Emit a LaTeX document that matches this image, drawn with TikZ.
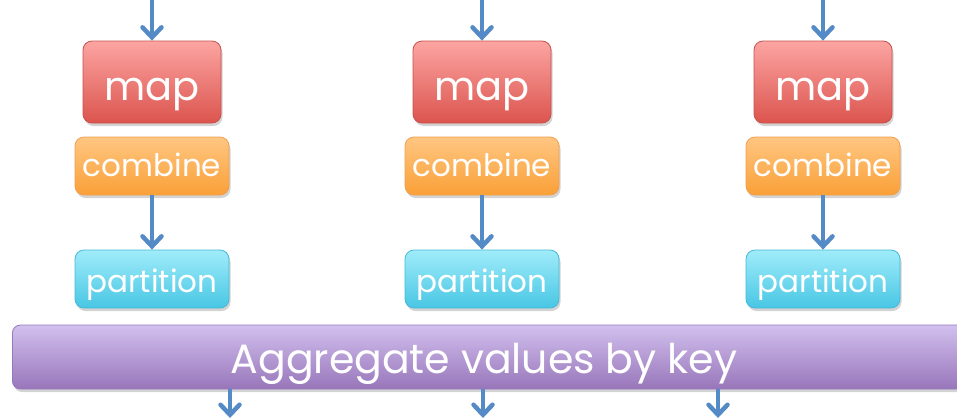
\documentclass[tikz,border=0pt]{standalone}
\usepackage{fontspec}
\setmainfont{Poppins}
\usetikzlibrary{arrows.meta,shadows,positioning}
\definecolor{arrowc}{RGB}{84,138,198}
\definecolor{mapT}{RGB}{252,165,162}
\definecolor{mapB}{RGB}{220,84,78}
\definecolor{mapD}{RGB}{200,80,75}
\definecolor{comT}{RGB}{255,198,130}
\definecolor{comB}{RGB}{250,160,55}
\definecolor{comD}{RGB}{240,160,80}
\definecolor{parT}{RGB}{160,236,250}
\definecolor{parB}{RGB}{72,198,228}
\definecolor{parD}{RGB}{70,185,215}
\definecolor{aggT}{RGB}{210,192,238}
\definecolor{aggB}{RGB}{152,118,186}
\definecolor{aggD}{RGB}{150,120,190}
\tikzset{
  box/.style={rounded corners=9pt, line width=0.8pt, inner sep=0pt,
     drop shadow={shadow xshift=1.5pt, shadow yshift=-3pt, opacity=0.35}},
  mapbox/.style={box, minimum width=138pt, minimum height=82pt, top color=mapT, bottom color=mapB, draw=mapD},
  combox/.style={box, minimum width=154pt, minimum height=58pt, top color=comT, bottom color=comB, draw=comD},
  parbox/.style={box, minimum width=154pt, minimum height=58pt, top color=parT, bottom color=parB, draw=parD},
  aggbox/.style={box, rounded corners=8pt, top color=aggT, bottom color=aggB, draw=aggD},
  lbl/.style={text=white, inner sep=0pt, anchor=base},
  maplbl/.style={lbl, font=\fontsize{40}{40}\selectfont},
  smlbl/.style={lbl, font=\fontsize{31}{31}\selectfont},
  agglbl/.style={lbl, font=\fontsize{41}{41}\selectfont},
  flow/.style={draw=arrowc, line width=4.5pt, -{Straight Barb[length=10pt,width=19pt,line cap=round]}},
}
\begin{document}
\begin{tikzpicture}[x=1pt,y=-1pt]
\useasboundingbox (0,0) rectangle (957,418);
% aggregate
\node[aggbox, minimum width=960pt, minimum height=64pt, anchor=west] (agg) at (12,357) {};
\node[agglbl] (aggt) at (484,373) {Aggregate values by key};
\foreach \i/\x in {1/152, 2/482, 3/823}{
  \node[mapbox] (map\i) at (\x,82) {};
  \node[maplbl] (mapt\i) at (\x,100) {map};
  \node[combox] (com\i) at (\x,166) {};
  \node[smlbl] (comt\i) at (\x,176) {combine};
  \node[parbox] (par\i) at (\x,279) {};
  \node[smlbl] (part\i) at (\x,292) {partition};
  \coordinate (top\i) at (\x,0);
  \draw[flow] (top\i) -- (map\i.north);
  \draw[flow] (com\i.south) -- (par\i.north);
}
\coordinate (b1) at (230,418);
\coordinate (b2) at (483,418);
\coordinate (b3) at (718,418);
\foreach \i in {1,2,3}{
  \draw[flow] (agg.south -| b\i) -- (b\i);
}
\end{tikzpicture}
\end{document}
